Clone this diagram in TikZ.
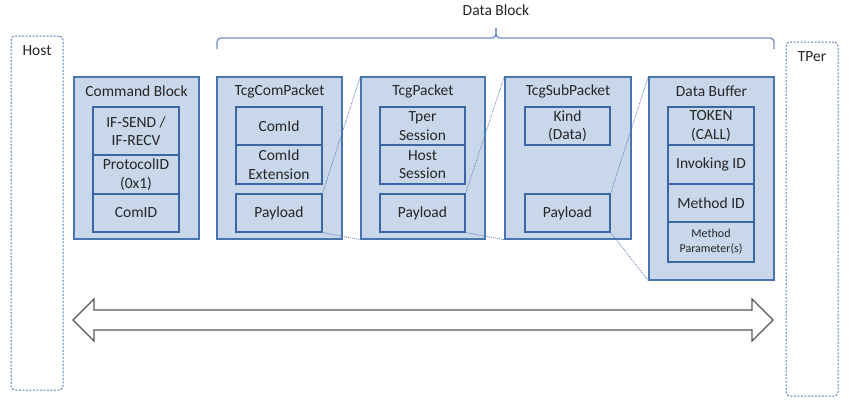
\documentclass[tikz,border=0pt]{standalone}
\usepackage{fontspec}
\setmainfont{Carlito}
\definecolor{boxfill}{HTML}{C9D7EA}
\definecolor{outerline}{HTML}{4A76B0}
\definecolor{cellline}{HTML}{3A66A4}
\definecolor{dashline}{HTML}{5A7DB2}
\definecolor{txt}{HTML}{262626}
\definecolor{arrowline}{HTML}{555555}
\begin{document}
\begin{tikzpicture}[x=1pt,y=-1pt,
  txtfont/.style={font=\fontsize{15.5}{18.6}\selectfont, text=txt},
  outerbox/.style={draw=outerline, fill=boxfill, line width=1.3pt, inner sep=0pt, minimum width=125pt},
  cell/.style={draw=cellline, fill=boxfill, line width=1.2pt, inner sep=0pt, minimum width=86pt, align=center, txtfont},
  title/.style={txtfont, inner sep=0pt},
  side/.style={draw=dashline, line width=1pt, dash pattern=on 2pt off 1.5pt, rounded corners=4pt, inner sep=0pt, minimum width=52pt, minimum height=354pt},
  zoomline/.style={draw=dashline, line width=0.7pt, dash pattern=on 1pt off 1pt},
  bracestyle/.style={draw=outerline!80, line width=1.3pt, rounded corners=4pt},
  bigarrow/.style={draw=arrowline, fill=white, line width=1.1pt, line join=miter}
]
\useasboundingbox (0,0) rectangle (849,408);

% side boxes
\node[side] (host) at (37,213) {};
\node[side] (tper) at (812,219) {};
\node[title] (hostlbl) at (37,51) {Host};
\node[title] (tperlbl) at (812,57) {TPer};

% data block brace
\coordinate (bl) at (217,49);
\coordinate (br) at (774,49);
\coordinate (bm) at (496,38);
\coordinate (bt) at (496,28);
\draw[bracestyle] (bl) |- (bm) -- (bt);
\draw[bracestyle] (br) |- (bm) -- (bt);
\node[title] (dblbl) at (496,10) {Data Block};

% outer boxes
\node[outerbox, minimum height=162pt] (cmd) at (136.5,158) {};
\node[outerbox, minimum height=162pt] (com) at (279.5,158) {};
\node[outerbox, minimum height=162pt, minimum width=124pt] (pkt) at (423,158) {};
\node[outerbox, minimum height=162pt, minimum width=126pt] (sub) at (568,158) {};
\node[outerbox, minimum height=203pt] (buf) at (711.5,178.5) {};

\node[title] (cmdt) at (136.5,91) {Command Block};
\node[title] (comt) at (279.5,91) {TcgComPacket};
\node[title] (pktt) at (423,91) {TcgPacket};
\node[title] (subt) at (568,91) {TcgSubPacket};
\node[title] (buft) at (711.5,91) {Data Buffer};

% Command Block cells
\node[cell, minimum height=48pt] (c1) at (136,131) {IF-SEND /\\IF-RECV};
\node[cell, minimum height=39pt] (c2) at (136,174.5) {ProtocolID\\(0x1)};
\node[cell, minimum height=38pt] (c3) at (136,213) {ComID};

% TcgComPacket cells
\node[cell, minimum height=38pt] (m1) at (279,126) {ComId};
\node[cell, minimum height=39pt] (m2) at (279,164.5) {ComId\\Extension};
\node[cell, minimum height=38pt] (mp) at (279,213) {Payload};

% TcgPacket cells
\node[cell, minimum height=38pt, minimum width=85pt] (p1) at (422.5,126) {Tper\\Session};
\node[cell, minimum height=39pt, minimum width=85pt] (p2) at (422.5,164.5) {Host\\Session};
\node[cell, minimum height=38pt, minimum width=85pt] (pp) at (422.5,213) {Payload};

% TcgSubPacket cells
\node[cell, minimum height=38pt, minimum width=85pt] (s1) at (567.5,126) {Kind\\(Data)};
\node[cell, minimum height=38pt, minimum width=85pt] (sp) at (567.5,213) {Payload};

% Data Buffer cells
\node[cell, minimum height=38pt] (d1) at (711,126) {TOKEN\\(CALL)};
\node[cell, minimum height=39pt] (d2) at (711,164.5) {Invoking ID};
\node[cell, minimum height=38pt] (d3) at (711,203) {Method ID};
\node[cell, minimum height=40pt, font=\fontsize{12}{15}\selectfont] (d4) at (711,242) {Method\\Parameter(s)};

% zoom lines
\draw[zoomline] (mp.north east) -- (pkt.north west);
\draw[zoomline] (mp.south east) -- (pkt.south west);
\draw[zoomline] (pp.north east) -- (sub.north west);
\draw[zoomline] (pp.south east) -- (sub.south west);
\draw[zoomline] (sp.north east) -- (buf.north west);
\draw[zoomline] (sp.south east) -- (buf.south west);

% double block arrow
\draw[bigarrow] (73,320) -- (94,299) -- (94,310) -- (752,310) -- (752,299) -- (773,320)
  -- (752,341) -- (752,330) -- (94,330) -- (94,341) -- cycle;
\end{tikzpicture}
\end{document}
